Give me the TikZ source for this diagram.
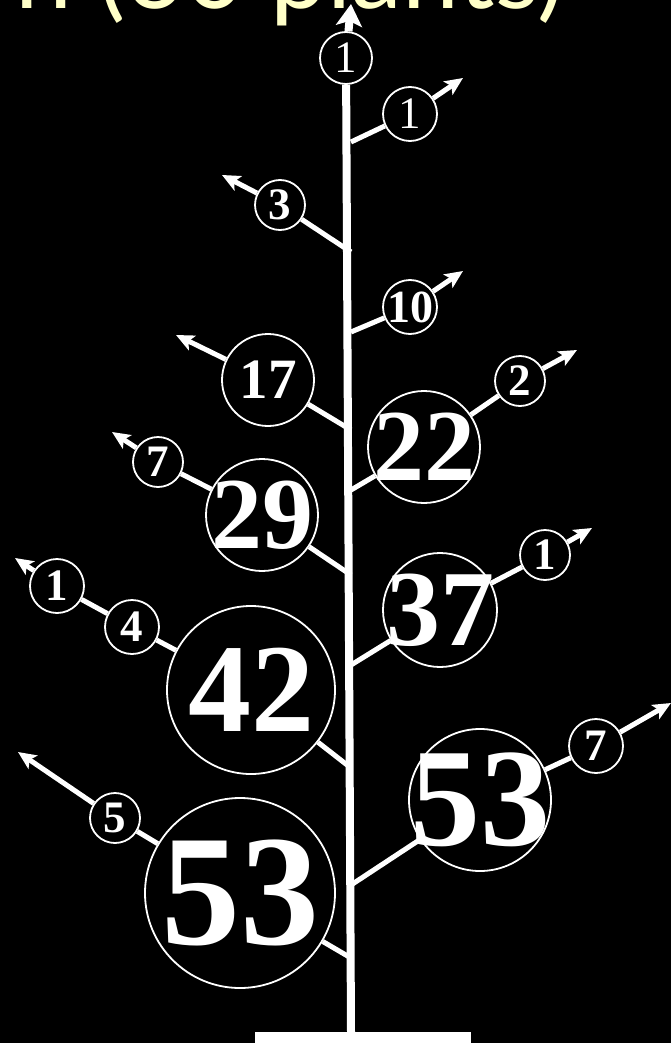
\documentclass[tikz,border=0pt]{standalone}
\usepackage{fontspec}
\setmainfont{Liberation Serif}
\newfontfamily\titlefont{Lato}
\usetikzlibrary{arrows.meta}
\definecolor{ttl}{HTML}{FFFFC8}
\begin{document}
\begin{tikzpicture}[x=1pt,y=-1pt,
  cn/.style={circle,draw=white,line width=1.8pt,fill=black,inner sep=0pt,minimum size=#1},
  num/.style={text=white,inner sep=0pt,font=\fontsize{#1}{#1}\selectfont\bfseries},
  numr/.style={text=white,inner sep=0pt,font=\fontsize{#1}{#1}\selectfont},
  br/.style={draw=white,line width=5pt},
  bra/.style={draw=white,line width=5pt,-{Stealth[length=18pt,width=16pt,inset=4pt]}},
  stemline/.style={draw=white,line width=8pt},
  stema/.style={draw=white,line width=8pt,-{Stealth[length=22pt,width=26pt,inset=5pt]}}]
\fill[black] (0,0) rectangle (671,1043);
\useasboundingbox (0,0) rectangle (671,1043);
\clip (0,0) rectangle (671,1043);
% title (cut off at top, as in the reference)
\node[text=ttl,inner sep=0pt,font=\titlefont\fontsize{102}{102}\selectfont,anchor=base] (title) at (290,9) {n (60 plants)};
% base block
\node[fill=white,inner sep=0pt,minimum width=216,minimum height=24,anchor=north west] (base) at (255,1032) {};
% stem coordinates
\coordinate (s0) at (351,1032);
\coordinate (stip) at (351,4);
\coordinate (sR1) at (351,142);
\coordinate (sR2) at (351,332);
\coordinate (sR3) at (351,490);
\coordinate (sR4) at (351,665);
\coordinate (sR5) at (351,885);
\coordinate (sL1) at (351,252);
\coordinate (sL2) at (351,430);
\coordinate (sL3) at (351,575);
\coordinate (sL4) at (351,768);
\coordinate (sL5) at (351,958);
% arrow tips
\coordinate (tR1) at (463,78);
\coordinate (tR2) at (463,271);
\coordinate (tR3) at (577,350);
\coordinate (tR4) at (592,528);
\coordinate (tR5) at (671,703);
\coordinate (tL1) at (222,175);
\coordinate (tL2) at (176,335);
\coordinate (tL3) at (112,432);
\coordinate (tL4) at (15,558);
\coordinate (tL5) at (18,752);
% circles
\node[cn=52,label={[numr=45]center:1}] (ctop) at (346,58) {};
\node[cn=54,label={[numr=45]center:1}] (cR1) at (410,114) {};
\node[cn=54,label={[num=46]center:10}] (cR2) at (410,307) {};
\node[cn=112,label={[num=102]center:22}] (cR3a) at (424,447) {};
\node[cn=50,label={[num=45]center:2}] (cR3b) at (520,381) {};
\node[cn=114,label={[num=108]center:37}] (cR4a) at (440,610) {};
\node[cn=50,label={[num=45]center:1}] (cR4b) at (545,555) {};
\node[cn=142,label={[num=140]center:53}] (cR5a) at (480,800) {};
\node[cn=54,label={[num=45]center:7}] (cR5b) at (596,746) {};
\node[cn=50,label={[num=45]center:3}] (cL1) at (280,205) {};
\node[cn=92,label={[num=57]center:17}] (cL2) at (268,380) {};
\node[cn=112,label={[num=102]center:29}] (cL3a) at (262,515) {};
\node[cn=50,label={[num=45]center:7}] (cL3b) at (158,462) {};
\node[cn=168,label={[num=126]center:42}] (cL4a) at (251,690) {};
\node[cn=54,label={[num=45]center:4}] (cL4b) at (132,627) {};
\node[cn=54,label={[num=45]center:1}] (cL4c) at (57,586) {};
\node[cn=190,label={[num=158]center:53}] (cL5a) at (240,893) {};
\node[cn=50,label={[num=45]center:5}] (cL5b) at (115,818) {};
% branches
\draw[br] (sR1) -- (cR1); \draw[bra] (cR1) -- (tR1);
\draw[br] (sR2) -- (cR2); \draw[bra] (cR2) -- (tR2);
\draw[br] (sR3) -- (cR3a); \draw[br] (cR3a) -- (cR3b); \draw[bra] (cR3b) -- (tR3);
\draw[br] (sR4) -- (cR4a); \draw[br] (cR4a) -- (cR4b); \draw[bra] (cR4b) -- (tR4);
\draw[br] (sR5) -- (cR5a); \draw[br] (cR5a) -- (cR5b); \draw[bra] (cR5b) -- (tR5);
\draw[br] (sL1) -- (cL1); \draw[bra] (cL1) -- (tL1);
\draw[br] (sL2) -- (cL2); \draw[bra] (cL2) -- (tL2);
\draw[br] (sL3) -- (cL3a); \draw[br] (cL3a) -- (cL3b); \draw[bra] (cL3b) -- (tL3);
\draw[br] (sL4) -- (cL4a); \draw[br] (cL4a) -- (cL4b); \draw[br] (cL4b) -- (cL4c); \draw[bra] (cL4c) -- (tL4);
\draw[br] (sL5) -- (cL5a); \draw[br] (cL5a) -- (cL5b); \draw[bra] (cL5b) -- (tL5);
% stem
\draw[stemline] (s0) -- (ctop);
\draw[stema] (ctop) -- (stip);
\end{tikzpicture}
\end{document}
